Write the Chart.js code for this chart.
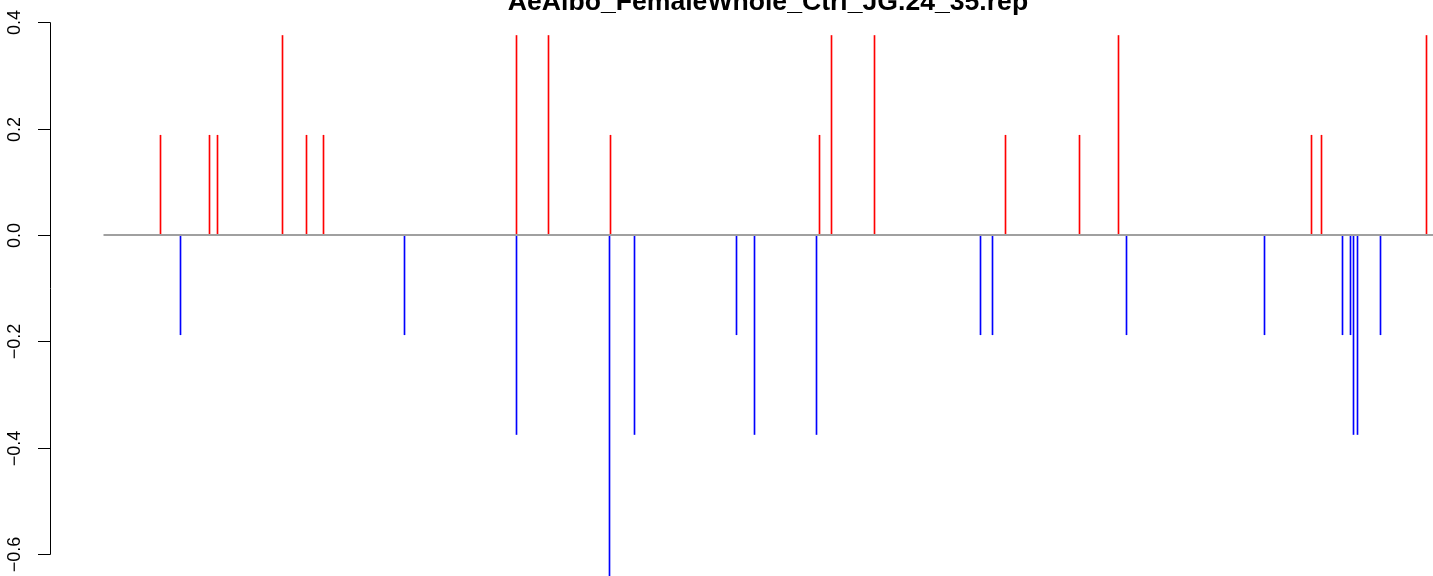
<!DOCTYPE html>
<html>
<head>
<meta charset="utf-8">
<title>AeAlbo_FemaleWhole_Ctrl_JG.24_35.rep</title>
<script src="https://cdn.jsdelivr.net/npm/chart.js@4/dist/chart.umd.min.js"></script>
<style>
  html, body { margin: 0; padding: 0; background: #ffffff; }
  canvas { display: block; }
</style>
</head>
<body>
<canvas id="repChart" width="1433" height="576"></canvas>
<script>
// chart title
const chartTitle = 'AeAlbo_FemaleWhole_Ctrl_JG.24_35.rep';

// positions and values of the upward (red) spikes
const upPositions = [160, 209, 217, 282, 306, 323, 516, 548, 610, 819, 831, 874, 1005, 1079, 1118, 1311, 1321, 1426];
const upValues = [0.1875, 0.1875, 0.1875, 0.375, 0.1875, 0.1875, 0.375, 0.375, 0.1875, 0.1875, 0.375, 0.375, 0.1875, 0.1875, 0.375, 0.1875, 0.1875, 0.375];

// positions and values of the downward (blue) spikes
const downPositions = [180, 404, 516, 609, 634, 736, 754, 816, 980, 992, 1126, 1264, 1342, 1350, 1353, 1357, 1380];
const downValues = [-0.1875, -0.1875, -0.375, -0.75, -0.375, -0.1875, -0.375, -0.375, -0.1875, -0.1875, -0.1875, -0.1875, -0.1875, -0.1875, -0.375, -0.375, -0.1875];

// zero line span
const baselineStart = 103;
const baselineEnd = 1432.5;

// y axis ticks
const yTicks = [0.4, 0.2, 0.0, -0.2, -0.4, -0.6];

function toPoints(xs, ys) {
  return xs.map((x, i) => ({ x: x, y: ys[i] }));
}

// draws R-style left axis (rotated labels) and the cut-off title
const rAxisPlugin = {
  id: 'rAxis',
  afterDraw(chart) {
    const ctx = chart.ctx;
    const yScale = chart.scales.y;
    const axisX = 50.5;
    ctx.save();
    ctx.strokeStyle = '#000000';
    ctx.lineWidth = 1;

    const top = Math.round(yScale.getPixelForValue(yTicks[0])) + 0.5;
    const bottom = Math.round(yScale.getPixelForValue(yTicks[yTicks.length - 1])) + 0.5;
    ctx.beginPath();
    ctx.moveTo(axisX, top);
    ctx.lineTo(axisX, bottom);
    ctx.stroke();

    ctx.fillStyle = '#000000';
    ctx.font = '18px "Liberation Sans", Arial, sans-serif';
    ctx.textAlign = 'center';
    ctx.textBaseline = 'alphabetic';
    yTicks.forEach(v => {
      const py = Math.round(yScale.getPixelForValue(v)) + 0.5;
      ctx.beginPath();
      ctx.moveTo(38, py);
      ctx.lineTo(axisX, py);
      ctx.stroke();
      ctx.save();
      ctx.translate(20, py);
      ctx.rotate(-Math.PI / 2);
      ctx.fillText(v.toFixed(1).replace('-', '\u2212'), 0, 0);
      ctx.restore();
    });

    ctx.font = 'bold 26.6px "Liberation Sans", Arial, sans-serif';
    ctx.fillText(chartTitle, 768, 9.5);
    ctx.restore();
  }
};

const ctx = document.getElementById('repChart').getContext('2d');

new Chart(ctx, {
  type: 'bar',
  data: {
    datasets: [{
      type: 'line',
      label: 'zero',
      data: [{ x: baselineStart, y: 0 }, { x: baselineEnd, y: 0 }],
      borderColor: '#a0a0a0',
      borderWidth: 2,
      pointRadius: 0,
      order: 0
    }, {
      label: 'up',
      data: toPoints(upPositions, upValues),
      backgroundColor: '#ff0000',
      barThickness: 1,
      grouped: false,
      order: 1
    }, {
      label: 'down',
      data: toPoints(downPositions, downValues),
      backgroundColor: '#0000ff',
      barThickness: 1,
      grouped: false,
      order: 1
    }]
  },
  options: {
    responsive: false,
    animation: false,
    layout: { padding: { left: 50, right: 0, top: 0, bottom: 0 } },
    plugins: {
      legend: { display: false },
      tooltip: { enabled: false }
    },
    scales: {
      x: {
        type: 'linear',
        min: 49.5,
        max: 1432.5,
        offset: false,
        display: false
      },
      y: {
        min: -341 / 532,
        max: 235 / 532,
        display: false
      }
    }
  },
  plugins: [rAxisPlugin]
});
</script>
</body>
</html>
